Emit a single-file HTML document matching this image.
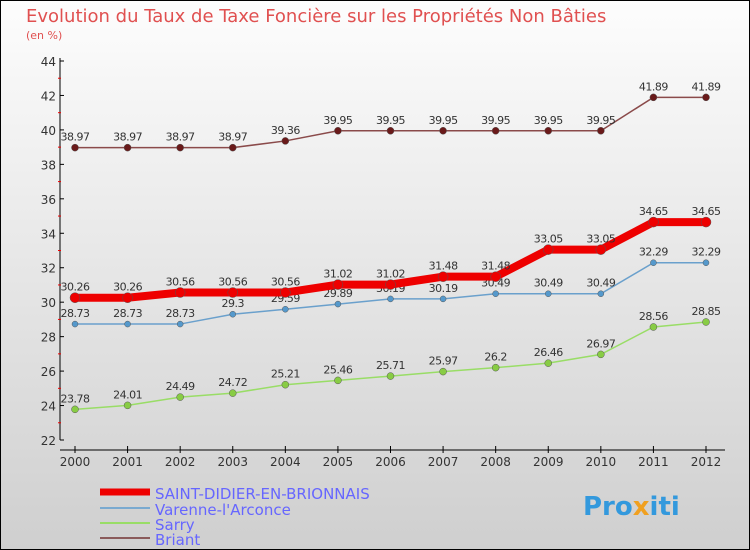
<!DOCTYPE html>
<html><head><meta charset="utf-8"><style>
body{margin:0}
#c{position:relative;width:750px;height:550px;overflow:hidden}
text{font-family:"DejaVu Sans","Liberation Sans",sans-serif}
</style></head><body>
<div id="c">
<svg id="s" width="750" height="550" xmlns="http://www.w3.org/2000/svg">
<defs><linearGradient id="bg" x1="0" y1="0" x2="0" y2="1"><stop offset="0" stop-color="#fdfdfd"/><stop offset="1" stop-color="#cfcfcf"/></linearGradient></defs>
<rect x="0.5" y="0.5" width="749" height="549" fill="url(#bg)" stroke="#000"/>
<text x="26" y="22" font-size="18" fill="#e05050">Evolution du Taux de Taxe Foncière sur les Propriétés Non Bâties</text>
<text x="26" y="39" font-size="11" fill="#e05050">(en %)</text>
<g id="axes"></g><g id="series"></g>
<g>
<line x1="100" y1="492" x2="150" y2="492" stroke="#e00" stroke-width="7"/>
<text x="155" y="499" font-size="15" fill="#6666ff">SAINT-DIDIER-EN-BRIONNAIS</text>
<line x1="100" y1="508" x2="150" y2="508" stroke="#7aaad0" stroke-width="2"/>
<text x="155" y="515" font-size="15" fill="#6666ff">Varenne-l'Arconce</text>
<line x1="100" y1="523" x2="150" y2="523" stroke="#99dd66" stroke-width="2"/>
<text x="155" y="530" font-size="15" fill="#6666ff">Sarry</text>
<line x1="100" y1="538" x2="150" y2="538" stroke="#8a5a5a" stroke-width="2"/>
<text x="155" y="545" font-size="15" fill="#6666ff">Briant</text>
</g>
<text x="583" y="515" font-size="26" font-weight="bold" fill="#3399dd">Pro<tspan fill="#f0a020">x</tspan>iti</text>
</svg>
</div>
<script>
const years=[2000,2001,2002,2003,2004,2005,2006,2007,2008,2009,2010,2011,2012];
const yTicks=[22,24,26,28,30,32,34,36,38,40,42,44];
const saint=[30.26,30.26,30.56,30.56,30.56,31.02,31.02,31.48,31.48,33.05,33.05,34.65,34.65];
const varenne=[28.73,28.73,28.73,29.3,29.59,29.89,30.19,30.19,30.49,30.49,30.49,32.29,32.29];
const sarry=[23.78,24.01,24.49,24.72,25.21,25.46,25.71,25.97,26.2,26.46,26.97,28.56,28.85];
const briant=[38.97,38.97,38.97,38.97,39.36,39.95,39.95,39.95,39.95,39.95,39.95,41.89,41.89];
const NS="http://www.w3.org/2000/svg";
const xs=i=>75+i*(706-75)/(years.length-1);
const ys=v=>440-(v-22)*(440-61)/22;
function mk(t,a,p){const e=document.createElementNS(NS,t);for(const k in a)e.setAttribute(k,a[k]);p.appendChild(e);return e;}
const ax=document.getElementById('axes');
const yl=mk('line',{x1:60,y1:58,x2:60,y2:440,stroke:'#000'},ax);


const xl=mk('line',{x1:60,y1:450,x2:725,y2:450,stroke:'#000'},ax);


yTicks.forEach(v=>{const y=ys(v);mk('line',{x1:60,y1:y,x2:64,y2:y,stroke:'#000'},ax);
 if(v<44)mk('line',{x1:58,y1:ys(v+1),x2:61,y2:ys(v+1),stroke:'#e00'},ax);
 const t=mk('text',{x:56,y:y+5,'font-size':12,'text-anchor':'end',fill:'#333'},ax);t.textContent=v;
 
 });
years.forEach((yr,i)=>{const x=xs(i);mk('line',{x1:x,y1:446,x2:x,y2:453,stroke:'#000'},ax);
 const t=mk('text',{x:x,y:466,'font-size':12,'text-anchor':'middle',fill:'#333'},ax);t.textContent=yr;
 
 });
const sg=document.getElementById('series');
function draw(vals,color,w,r,dot,name){
 const g=mk('g',{},sg);
 
 
 mk('polyline',{points:vals.map((v,i)=>xs(i)+','+ys(v)).join(' '),fill:'none',stroke:color,'stroke-width':w},g);
 vals.forEach((v,i)=>{const c=mk('circle',{cx:xs(i),cy:ys(v),r:r,fill:dot,stroke:'#555','stroke-width':0.5},g);
  
  
  const t=mk('text',{x:xs(i),y:ys(v)-7,'font-size':11,'text-anchor':'middle',fill:'#333','letter-spacing':'-0.5'},g);t.textContent=v;
  
  });
}
draw(briant,'#8a4a4a',1.5,3.5,'#6a1a1a','series-briant');
draw(sarry,'#99dd66',1.5,3.5,'#88cc44','series-sarry');
draw(varenne,'#6aa0cc',1.5,3,'#5599cc','series-varenne');
draw(saint,'#ee0000',8,5,'#ee0000','series-saint-didier');
</script>
</body></html>
